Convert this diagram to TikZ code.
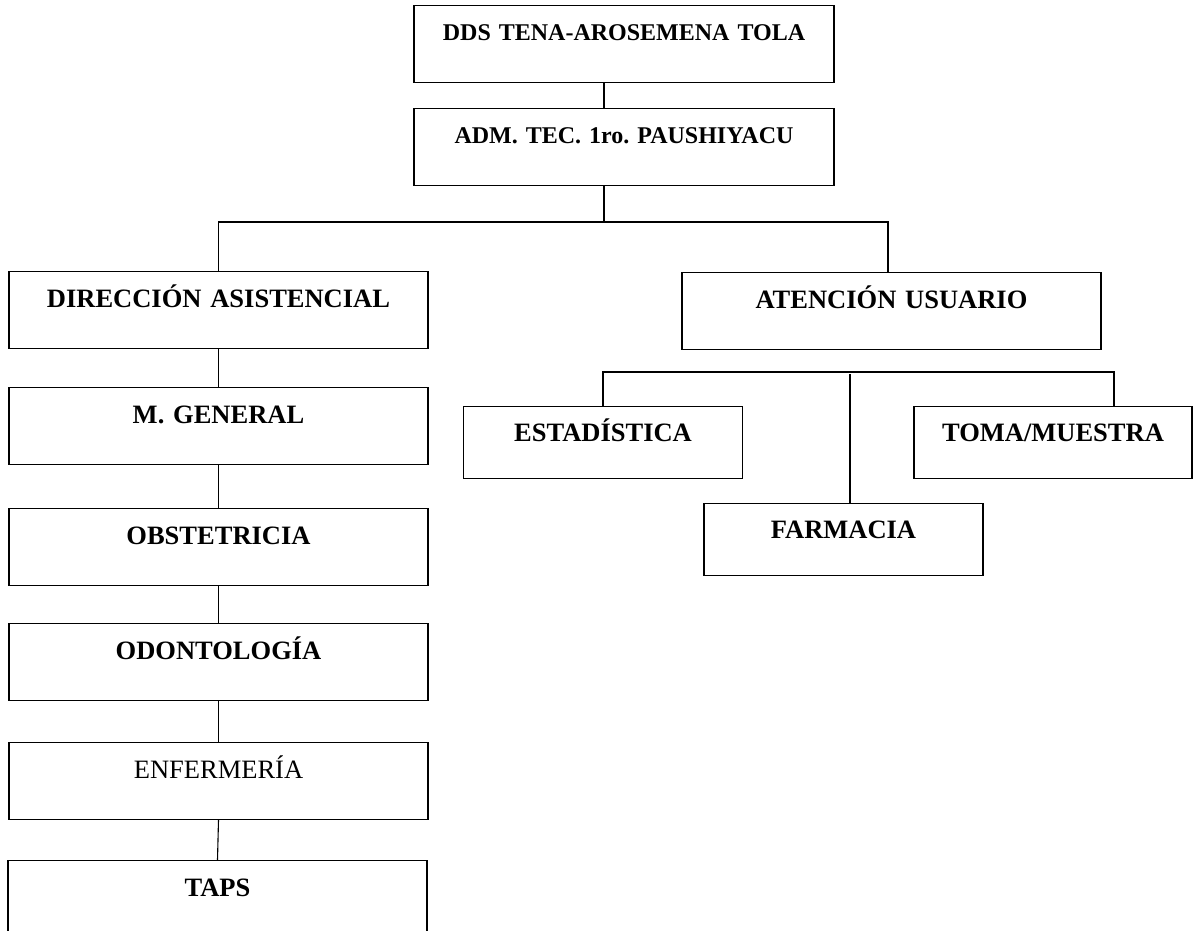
\documentclass[tikz,border=0pt]{standalone}
\usepackage{fontspec}
\setmainfont{Liberation Serif}
\usetikzlibrary{positioning}
\frenchspacing

\begin{document}
\begin{tikzpicture}[x=1pt, y=-1pt, line width=1.1pt,
    unit/.style={draw, anchor=north, inner sep=0pt, text width=#1, align=center,
        text height=36pt, text depth=41pt, font=\fontsize{26.5}{30}\selectfont\bfseries},
    head/.style={unit=#1, text height=35pt, text depth=42pt, font=\fontsize{24}{28}\selectfont\bfseries},
    subunit/.style={unit=#1, text height=35pt, text depth=37pt}]
    \useasboundingbox (0,0) rectangle (1195,930);

    % Draw the two top boxes
    \node[head=420pt] (dds) at (624,5) {DDS TENA-AROSEMENA TOLA};
    \node[head=420pt] (adm) at (624,108) {ADM. TEC. 1ro. PAUSHIYACU};

    % Draw the two branches
    \node[unit=419pt] (dir) at (218.5,271) {DIRECCIÓN ASISTENCIAL};
    \node[unit=419pt] (aten) at (891.5,272) {ATENCIÓN USUARIO};

    % Draw the column below the left branch
    \node[unit=419pt] (mgen) at (218.5,387) {M. GENERAL};
    \node[unit=419pt] (obst) at (218.5,508) {OBSTETRICIA};
    \node[unit=419pt] (odon) at (218.5,623) {ODONTOLOGÍA};
    \node[unit=419pt, font=\fontsize{26.5}{30}\selectfont] (enf) at (218.5,742) {ENFERMERÍA};
    \node[unit=419pt] (taps) at (217.5,860) {TAPS};

    % Draw the boxes below the right branch
    \node[subunit=279pt] (esta) at (603,406) {ESTADÍSTICA};
    \node[subunit=278pt] (toma) at (1053,406) {TOMA/MUESTRA};
    \node[subunit=279pt] (farm) at (843.5,503) {FARMACIA};

    \coordinate (bus) at (0,222);
    \coordinate (subbus) at (0,372);

    % Draw the lines between the boxes
    \draw ([xshift=-20pt]dds.south) -- ([xshift=-20pt]adm.north);
    \draw ([xshift=-20pt]adm.south) -- ([xshift=-20pt]adm.south |- bus);
    \draw (dir.north) -- (dir.north |- bus) -| ([xshift=-3.5pt]aten.north);

    \draw (dir.south) -- (mgen.north);
    \draw (mgen.south) -- (obst.north);
    \draw (obst.south) -- (odon.north);
    \draw (odon.south) -- (enf.north);
    \draw (enf.south) -- (taps.north);

    \draw (esta.north) -- (esta.north |- subbus) -| ([xshift=61pt]toma.north);
    \draw ([xshift=6.5pt]farm.north) -- ([xshift=6.5pt,yshift=-2pt]farm.north |- subbus);
\end{tikzpicture}
\end{document}
